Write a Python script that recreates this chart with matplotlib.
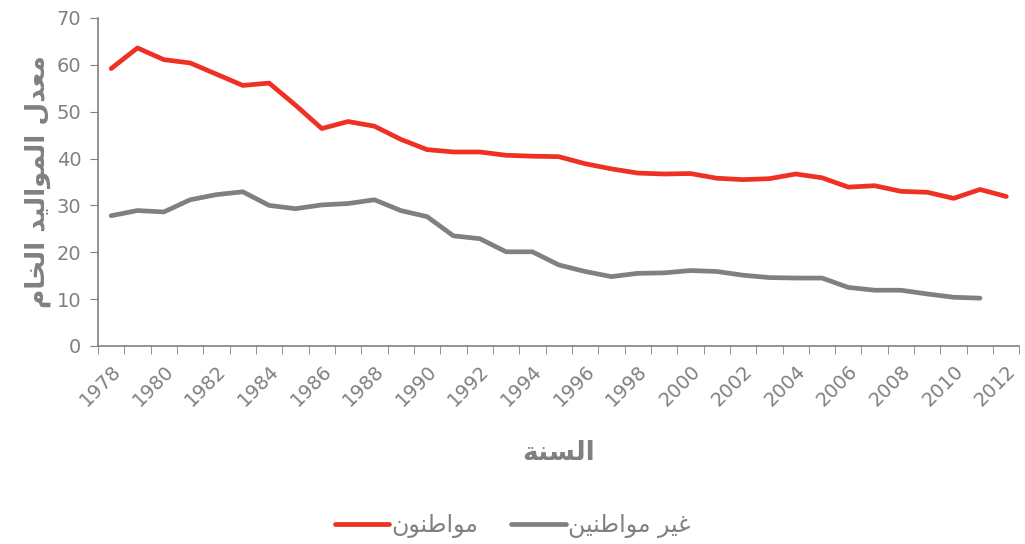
import numpy as np
import matplotlib.pyplot as plt

# Crude birth rate by year
years = list(range(1978, 2013))
citizens = [59.2, 63.6, 61.1, 60.4, 58.0, 55.6, 56.1, 51.4, 46.4, 47.9,
            46.9, 44.1, 41.9, 41.4, 41.4, 40.7, 40.5, 40.4, 38.9, 37.8,
            36.9, 36.7, 36.8, 35.8, 35.5, 35.7, 36.7, 35.9, 33.9, 34.2,
            33.0, 32.8, 31.5, 33.4, 31.9]
non_citizens = [27.8, 28.9, 28.6, 31.2, 32.3, 32.9, 30.0, 29.3, 30.1, 30.4,
                31.2, 28.9, 27.6, 23.5, 22.9, 20.1, 20.1, 17.3, 15.9, 14.8,
                15.5, 15.6, 16.1, 15.9, 15.1, 14.6, 14.5, 14.5, 12.5, 11.9,
                11.9, 11.1, 10.4, 10.2]
series_names = ['مواطنون', 'غير مواطنين']
x_title = 'السنة'
y_title = 'معدل المواليد الخام'
y_ticks = [0, 10, 20, 30, 40, 50, 60, 70]

# Arabic presentation forms: isolated, final, initial, medial
FORMS = {
    'ا': ('\uFE8D', '\uFE8E', None, None),
    'ة': ('\uFE93', '\uFE94', None, None),
    'د': ('\uFEA9', '\uFEAA', None, None),
    'و': ('\uFEED', '\uFEEE', None, None),
    'ر': ('\uFEAD', '\uFEAE', None, None),
    'ل': ('\uFEDD', '\uFEDE', '\uFEDF', '\uFEE0'),
    'س': ('\uFEB1', '\uFEB2', '\uFEB3', '\uFEB4'),
    'ن': ('\uFEE5', '\uFEE6', '\uFEE7', '\uFEE8'),
    'م': ('\uFEE1', '\uFEE2', '\uFEE3', '\uFEE4'),
    'ع': ('\uFEC9', '\uFECA', '\uFECB', '\uFECC'),
    'ي': ('\uFEF1', '\uFEF2', '\uFEF3', '\uFEF4'),
    'خ': ('\uFEA5', '\uFEA6', '\uFEA7', '\uFEA8'),
    'ط': ('\uFEC1', '\uFEC2', '\uFEC3', '\uFEC4'),
    'غ': ('\uFECD', '\uFECE', '\uFECF', '\uFED0'),
}


def shape(text):
    """Join Arabic letters and reverse them for left-to-right drawing."""
    out = []
    for i, ch in enumerate(text):
        if ch not in FORMS:
            out.append(ch)
            continue
        prev = text[i - 1] if i > 0 else ''
        nxt = text[i + 1] if i + 1 < len(text) else ''
        join_prev = prev in FORMS and FORMS[prev][2] is not None
        join_next = nxt in FORMS and FORMS[ch][2] is not None
        iso, fin, ini, med = FORMS[ch]
        if join_prev and join_next:
            out.append(med)
        elif join_prev:
            out.append(fin)
        elif join_next:
            out.append(ini)
        else:
            out.append(iso)
    return ''.join(reversed(out))


def main():
    gray = '#808080'
    plt.rcParams['font.family'] = ['DejaVu Sans']

    fig = plt.figure(figsize=(10.25, 5.44), dpi=100)
    ax = fig.add_axes([0.0956, 0.364, 0.899, 0.603])

    x = np.arange(len(years))
    ax.plot(x, citizens, color='#EE3124', lw=3.4, solid_capstyle='round',
            label=shape(series_names[0]))
    ax.plot(x[:len(non_citizens)], non_citizens, color=gray, lw=3.4,
            solid_capstyle='round', label=shape(series_names[1]))

    ax.set_xlim(-0.5, len(years) - 0.5)
    ax.set_ylim(0, 70)
    ax.set_yticks(y_ticks)

    # category axis: ticks between years, labels every other year
    ax.set_xticks(np.arange(-0.5, len(years)), minor=True)
    ax.set_xticks(x[::2])
    ax.set_xticklabels([str(y) for y in years[::2]], rotation=45,
                       ha='right', rotation_mode='anchor')
    ax.tick_params(axis='x', which='major', length=0, pad=11)
    ax.tick_params(axis='x', which='minor', length=6, color=gray)
    ax.tick_params(axis='y', length=6, color=gray, pad=6)
    ax.tick_params(labelsize=14, labelcolor=gray)

    for side in ['top', 'right']:
        ax.spines[side].set_visible(False)
    for side in ['left', 'bottom']:
        ax.spines[side].set_color(gray)
        ax.spines[side].set_linewidth(1.2)

    ax.set_xlabel(shape(x_title), fontsize=19, fontweight='bold',
                  color=gray, labelpad=22)
    ax.set_ylabel(shape(y_title), fontsize=19, fontweight='bold',
                  color=gray, labelpad=4)

    fig.legend(loc='lower center', bbox_to_anchor=(0.5, -0.028), ncol=2,
               frameon=False, fontsize=17, labelcolor=gray,
               handlelength=2.3, handletextpad=0.1, columnspacing=1.4)

    fig.savefig('out.png', dpi=100)


if __name__ == '__main__':
    main()
